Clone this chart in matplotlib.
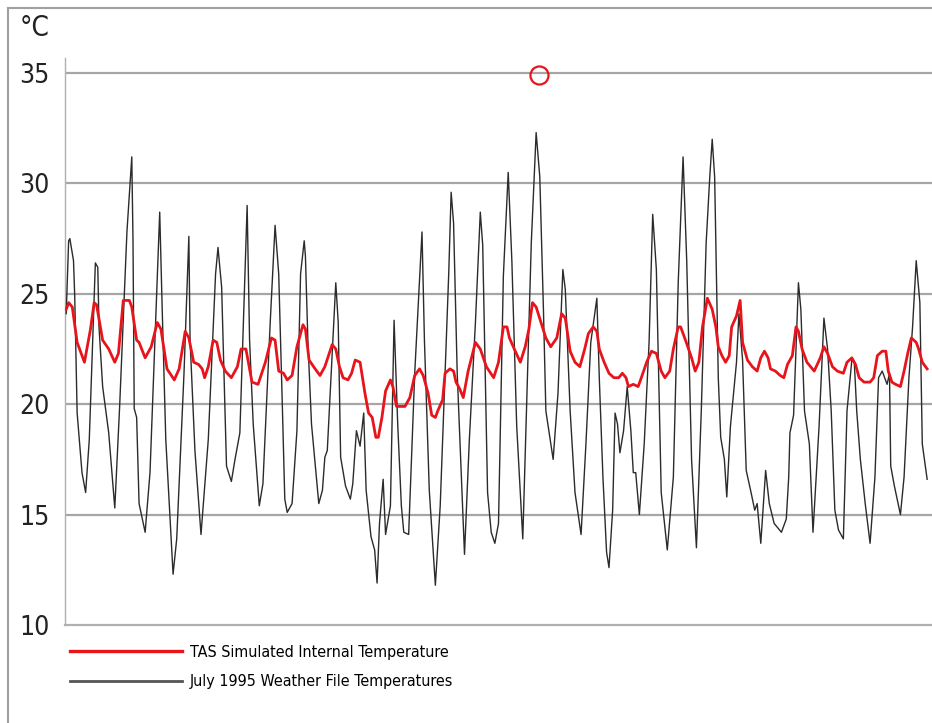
import matplotlib.pyplot as plt
from matplotlib.lines import Line2D

# hours from start of the period, temperatures in deg C
weather_hours = [
    0, 2, 3, 6, 7, 9, 13, 16, 19, 24, 26, 27, 30, 35, 40, 44, 50, 54, 55, 56, 58, 60,
    65, 69, 77, 79, 82, 88, 91, 97, 101, 102, 106, 111, 117, 123, 125, 128, 132, 136,
    139, 143, 149, 151, 154, 159, 162, 168, 172, 175, 178, 180, 182, 186, 190, 193,
    196, 197, 199, 202, 208, 211, 213, 215, 222, 224, 226, 230, 234, 236, 239, 242,
    245, 247, 251, 254, 256, 258, 261, 263, 267, 270, 273, 276, 278, 282, 287, 293,
    295, 299, 304, 308, 312, 315, 317, 319, 322, 328, 332, 337, 341, 343, 347, 350,
    353, 356, 360, 364, 367, 371, 376, 379, 383, 387, 390, 393, 395, 401, 405, 409,
    411, 415, 419, 424, 428, 432, 437, 439, 442, 445, 447, 450, 452, 454, 456, 459,
    462, 465, 467, 469, 472, 476, 480, 483, 486, 490, 495, 500, 504, 508, 511, 515,
    519, 523, 527, 530, 532, 534, 537, 539, 542, 544, 547, 552, 554, 557, 560, 564,
    567, 569, 572, 576, 579, 583, 589, 593, 595, 596, 599, 603, 605, 608, 612, 615,
    620, 624, 627, 630, 633, 636, 640, 643, 647, 649, 651, 654, 658, 662, 666, 669,
    672, 676, 678, 679, 682, 687, 690, 694, 697, 700, 703, 705, 709,
]
weather_temps = [
    24.1, 27.4, 27.5, 26.5, 24.9, 19.6, 16.9, 16.0, 18.4, 26.4, 26.2, 23.5, 20.8, 18.7,
    15.3, 19.9, 27.8, 31.2, 27.4, 19.8, 19.4, 15.5, 14.2, 16.9, 28.7, 24.4, 18.4, 12.3,
    13.9, 21.4, 27.6, 22.9, 17.9, 14.1, 18.4, 25.9, 27.1, 25.3, 17.2, 16.5, 17.5, 18.7,
    29.0, 22.9, 19.1, 15.4, 16.4, 23.7, 28.1, 25.9, 19.9, 15.7, 15.1, 15.5, 18.8, 25.9,
    27.4, 26.7, 22.9, 19.1, 15.5, 16.1, 17.6, 17.9, 25.5, 23.7, 17.6, 16.3, 15.7, 16.4,
    18.8, 18.1, 19.6, 16.1, 14.0, 13.4, 11.9, 14.6, 16.6, 14.1, 15.4, 23.8, 19.1, 15.4,
    14.2, 14.1, 21.4, 27.8, 22.9, 16.1, 11.8, 15.4, 21.4, 25.9, 29.6, 28.2, 21.4, 13.2,
    18.4, 23.7, 28.7, 27.2, 16.0, 14.2, 13.7, 14.6, 25.8, 30.5, 26.5, 19.0, 13.9, 19.7,
    27.3, 32.3, 30.3, 24.3, 19.7, 17.5, 20.5, 26.1, 25.2, 19.7, 16.0, 14.1, 18.2, 22.8,
    24.8, 21.2, 16.7, 13.3, 12.6, 15.2, 19.6, 19.1, 17.8, 18.8, 20.8, 18.8, 16.9, 16.9,
    15.0, 18.2, 22.8, 28.6, 26.1, 16.0, 13.4, 16.7, 25.5, 31.2, 26.5, 17.5, 13.5, 19.7,
    27.3, 30.3, 32.0, 30.3, 21.2, 18.5, 17.5, 15.8, 19.0, 21.9, 24.1, 22.0, 17.0, 16.0,
    15.2, 15.5, 13.7, 17.0, 15.5, 14.6, 14.2, 14.8, 16.7, 18.7, 19.5, 25.5, 24.3, 19.7,
    18.2, 14.2, 19.0, 23.9, 22.5, 19.7, 15.2, 14.3, 13.9, 19.7, 22.0, 21.9, 19.7, 17.5,
    15.5, 13.7, 16.7, 21.2, 21.5, 20.9, 21.4, 17.2, 16.3, 15.0, 16.7, 21.2, 23.5, 26.5,
    24.6, 18.2, 16.6,
]

tas_hours = [
    0, 2, 5, 9, 15, 20, 23, 25, 30, 35, 40, 43, 47, 52, 54, 58, 60, 65, 70, 75, 78, 83,
    89, 93, 98, 101, 105, 109, 112, 114, 117, 121, 124, 127, 131, 136, 141, 144, 148,
    153, 158, 164, 169, 172, 175, 179, 182, 186, 190, 195, 197, 200, 205, 209, 213, 219,
    222, 225, 228, 232, 235, 238, 242, 246, 249, 252, 255, 257, 260, 263, 267, 269, 272,
    276, 279, 283, 287, 291, 294, 298, 301, 304, 306, 310, 312, 316, 319, 321, 324, 327,
    331, 337, 341, 346, 352, 356, 360, 363, 365, 369, 374, 378, 381, 384, 387, 391, 395,
    399, 404, 408, 411, 415, 419, 423, 427, 430, 434, 437, 439, 443, 447, 451, 455, 458,
    461, 463, 467, 471, 473, 478, 482, 486, 490, 493, 497, 500, 504, 506, 510, 515, 518,
    521, 524, 528, 532, 535, 537, 540, 543, 546, 548, 552, 555, 557, 561, 565, 569, 572,
    575, 578, 580, 584, 588, 591, 594, 598, 601, 603, 606, 610, 616, 621, 624, 627, 631,
    635, 640, 643, 647, 650, 653, 657, 662, 665, 668, 672, 675, 677, 680, 683, 687, 690,
    693, 696, 700, 702, 705, 709,
]
tas_temps = [
    24.3, 24.6, 24.4, 22.8, 21.9, 23.4, 24.6, 24.5, 22.9, 22.5, 21.9, 22.3, 24.7, 24.7,
    24.4, 22.9, 22.8, 22.1, 22.6, 23.7, 23.4, 21.6, 21.1, 21.6, 23.3, 23.0, 21.9, 21.8,
    21.6, 21.2, 21.7, 22.9, 22.8, 22.0, 21.5, 21.2, 21.7, 22.5, 22.5, 21.0, 20.9, 21.9,
    23.0, 22.9, 21.5, 21.4, 21.1, 21.3, 22.6, 23.6, 23.4, 22.0, 21.6, 21.3, 21.7, 22.7,
    22.5, 21.7, 21.2, 21.1, 21.4, 22.0, 21.9, 20.5, 19.6, 19.4, 18.5, 18.5, 19.4, 20.6,
    21.1, 20.8, 19.9, 19.9, 19.9, 20.3, 21.3, 21.6, 21.3, 20.5, 19.5, 19.4, 19.7, 20.2,
    21.4, 21.6, 21.5, 21.0, 20.7, 20.3, 21.5, 22.8, 22.5, 21.7, 21.2, 21.9, 23.5, 23.5,
    23.0, 22.5, 21.9, 22.6, 23.4, 24.6, 24.4, 23.7, 23.0, 22.6, 23.0, 24.1, 23.9, 22.4,
    21.9, 21.7, 22.5, 23.2, 23.5, 23.3, 22.5, 21.9, 21.4, 21.2, 21.2, 21.4, 21.2, 20.8,
    20.9, 20.8, 21.1, 21.9, 22.4, 22.3, 21.5, 21.2, 21.5, 22.5, 23.5, 23.5, 22.9, 22.1,
    21.5, 21.9, 23.5, 24.8, 24.3, 23.5, 22.6, 22.2, 21.9, 22.2, 23.5, 24.0, 24.7, 22.8,
    22.0, 21.7, 21.5, 22.1, 22.4, 22.1, 21.6, 21.5, 21.3, 21.2, 21.8, 22.2, 23.5, 23.3,
    22.5, 21.9, 21.5, 22.1, 22.6, 22.3, 21.7, 21.5, 21.4, 21.9, 22.1, 21.8, 21.2, 21.0,
    21.0, 21.2, 22.2, 22.4, 22.4, 21.5, 21.0, 20.9, 20.8, 21.5, 22.3, 23.0, 22.8, 22.5,
    21.9, 21.6,
]

# the red ring marked on the 35 deg line
marker_hour = [389]
marker_temp = [34.9]

y_ticks = [10, 15, 20, 25, 30, 35]

font_list = ['DejaVu Sans']
red = '#e8141c'
grid_grey = '#a6a6a6'

fig = plt.figure(figsize=(9.32, 7.23), dpi=100)
ax = fig.add_axes([65 / 932, 1 - 625 / 723, 1 - 65 / 932, (625 - 58) / 723])

ax.plot(weather_hours, weather_temps, color='#2b2b2b', linewidth=1.0,
        label='July 1995 Weather File Temperatures', zorder=3)
ax.plot(tas_hours, tas_temps, color=red, linewidth=2.0,
        label='TAS Simulated Internal Temperature', zorder=4)
ax.plot(marker_hour, marker_temp, linestyle='none', marker='o', markersize=13,
        markerfacecolor='none', markeredgecolor=red, markeredgewidth=1.6, zorder=5)

ax.set_xlim(-1, 713)
ax.set_ylim(10, 35 + 15 / 22.08)
ax.set_xticks([])
ax.set_yticks(y_ticks)
ax.set_yticklabels([str(t) for t in y_ticks], family=font_list, stretch='condensed',
                   fontsize=19, color='#222222')
ax.tick_params(axis='y', length=0, pad=11)

for t in y_ticks[1:]:
    ax.axhline(t, color=grid_grey, linewidth=1.6, zorder=1)

for side in ['top', 'right']:
    ax.spines[side].set_visible(False)
ax.spines['left'].set_color('#b0b0b0')
ax.spines['left'].set_linewidth(1.0)
ax.spines['bottom'].set_color('#b0b0b0')
ax.spines['bottom'].set_linewidth(1.6)

fig.text(20 / 932, 1 - 42 / 723, '°C', family=font_list, stretch='condensed',
         fontsize=20, color='#222222', ha='left', va='bottom')

handles = [
    Line2D([], [], color=red, linewidth=2.4),
    Line2D([], [], color='#555555', linewidth=2.0),
]
labels = ['TAS Simulated Internal Temperature', 'July 1995 Weather File Temperatures']
fig.legend(handles, labels, loc='upper left', bbox_to_anchor=(70 / 932, 1 - 645 / 723),
           frameon=False, handlelength=7.0, handletextpad=0.5, labelspacing=0.9,
           borderpad=0, borderaxespad=0,
           prop={'family': font_list, 'stretch': 'condensed', 'size': 11.5})

# thin grey frame around the picture (left and top edges only are visible)
fig.add_artist(Line2D([7.5 / 932, 7.5 / 932], [0, 1 - 7.5 / 723], color='#a0a0a0',
                      linewidth=1.5, transform=fig.transFigure))
fig.add_artist(Line2D([7.5 / 932, 1], [1 - 7.5 / 723, 1 - 7.5 / 723], color='#a0a0a0',
                      linewidth=1.5, transform=fig.transFigure))

fig.savefig('out.png', dpi=100)
